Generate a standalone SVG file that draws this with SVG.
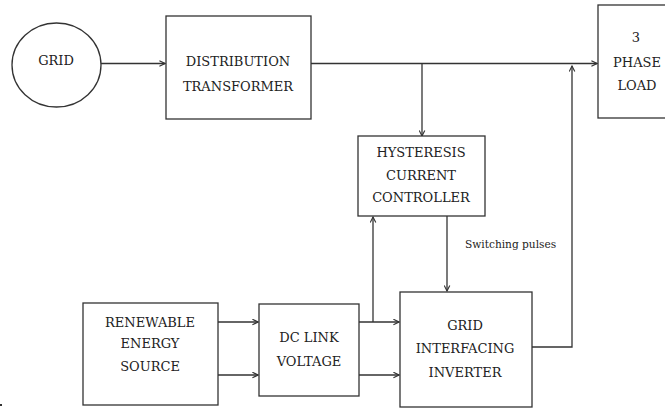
<svg xmlns="http://www.w3.org/2000/svg" width="665" height="408" viewBox="0 0 665 408">
<style>
.box{fill:#fff;stroke:#333;stroke-width:1.3}
.ln{fill:none;stroke:#333;stroke-width:1.3}
.t{font-family:"DejaVu Serif","Liberation Serif",serif;font-size:13px;fill:#222;text-anchor:middle}
.s{font-family:"DejaVu Serif","Liberation Serif",serif;font-size:10.6px;fill:#222}
</style>
<defs>
<marker id="ah" viewBox="0 0 10 10" refX="9" refY="5" markerWidth="7" markerHeight="7" markerUnits="userSpaceOnUse" orient="auto">
<path d="M1,1 L9,5 L1,9" fill="none" stroke="#333" stroke-width="1.6"/>
</marker>
</defs>
<rect width="665" height="408" fill="#fff"/>
<g id="connectors">
<line class="ln" x1="101" y1="63.5" x2="165" y2="63.5" marker-end="url(#ah)"/>
<line class="ln" x1="311" y1="63.5" x2="597" y2="63.5" marker-end="url(#ah)"/>
<line class="ln" x1="422" y1="63.5" x2="422" y2="136" marker-end="url(#ah)"/>
<polyline class="ln" points="532,347 572,347 572,66" marker-end="url(#ah)"/>
<line class="ln" x1="447" y1="216" x2="447" y2="291" marker-end="url(#ah)"/>
<line class="ln" x1="373" y1="322" x2="373" y2="217" marker-end="url(#ah)"/>
<line class="ln" x1="218" y1="322" x2="258" y2="322" marker-end="url(#ah)"/>
<line class="ln" x1="218" y1="375" x2="258" y2="375" marker-end="url(#ah)"/>
<line class="ln" x1="358" y1="322" x2="399" y2="322" marker-end="url(#ah)"/>
<line class="ln" x1="358" y1="375" x2="399" y2="375" marker-end="url(#ah)"/>
<text class="s" x="465" y="248">Switching pulses</text>
</g>
<g id="grid">
<ellipse class="box" cx="56.5" cy="65" rx="44.5" ry="42"/>
<text class="t" x="56" y="65">GRID</text>
</g>
<g id="distribution-transformer">
<rect class="box" x="166" y="16" width="145" height="103"/>
<text class="t" x="238" y="66">DISTRIBUTION</text>
<text class="t" x="238" y="91">TRANSFORMER</text>
</g>
<g id="load">
<rect class="box" x="598" y="5" width="72" height="113"/>
<text class="t" x="636" y="42">3</text>
<text class="t" x="637" y="67">PHASE</text>
<text class="t" x="637" y="90">LOAD</text>
</g>
<g id="hysteresis-controller">
<rect class="box" x="358" y="136" width="127" height="80"/>
<text class="t" x="421" y="157">HYSTERESIS</text>
<text class="t" x="421" y="180">CURRENT</text>
<text class="t" x="421" y="202">CONTROLLER</text>
</g>
<g id="renewable-source">
<rect class="box" x="83" y="303" width="135" height="102"/>
<text class="t" x="150" y="327">RENEWABLE</text>
<text class="t" x="150" y="348">ENERGY</text>
<text class="t" x="150" y="371">SOURCE</text>
</g>
<g id="dc-link">
<rect class="box" x="259" y="304" width="100" height="92"/>
<text class="t" x="309" y="342">DC LINK</text>
<text class="t" x="309" y="366">VOLTAGE</text>
</g>
<g id="inverter">
<rect class="box" x="400" y="292" width="132" height="115"/>
<text class="t" x="465" y="330">GRID</text>
<text class="t" x="465" y="353">INTERFACING</text>
<text class="t" x="465" y="377">INVERTER</text>
</g>
<rect x="0" y="404" width="2" height="2" fill="#333"/>
</svg>
